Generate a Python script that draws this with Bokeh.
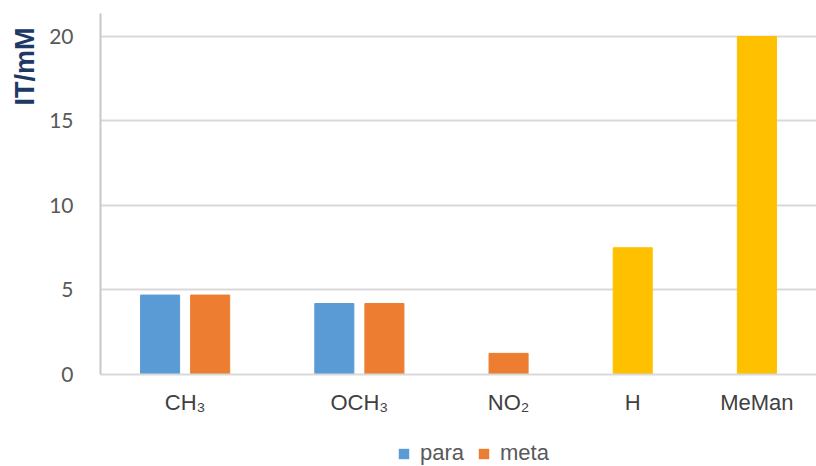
import math
from bokeh.plotting import figure
from bokeh.layouts import column
from bokeh.models import (FactorRange, Range1d, Legend, LegendItem,
                          Title, FixedTicker)
from bokeh.embed import file_html
from bokeh.resources import INLINE

# ---- data ----
categories = ["CH₃", "OCH₃", "NO₂", "H", "MeMan"]
para = [4.7, 4.2, None, None, None]
meta = [4.7, 4.2, 1.25, None, None]
other = [None, None, None, 7.5, 20.0]
y_ticks = [0, 5, 10, 15, 20]
series_names = ["para", "meta"]

PARA_C = "#5B9BD5"
META_C = "#ED7D31"
OTHER_C = "#FFC000"

factors = []
px, py, mx, my, ox, oy = [], [], [], [], [], []
for c, a, b, o in zip(categories, para, meta, other):
    if a is not None:
        factors.append((c, "para")); px.append((c, "para")); py.append(a)
    if b is not None:
        factors.append((c, "meta")); mx.append((c, "meta")); my.append(b)
    if o is not None:
        factors.append((c, "x")); ox.append((c, "x")); oy.append(o)

x_range = FactorRange(*factors, group_padding=1.48, range_padding=0.69,
                      range_padding_units="absolute")

p = figure(width=816, height=440, x_range=x_range, y_range=Range1d(0, 21.36),
           output_backend="svg", toolbar_location=None,
           min_border_left=100, min_border_right=0, min_border_top=13,
           min_border_bottom=66)
p.outline_line_color = None
p.background_fill_color = "white"
p.border_fill_color = "white"

W = 0.78
p.vbar(x=px, top=py, width=W, fill_color=PARA_C, line_color=PARA_C)
p.vbar(x=mx, top=my, width=W, fill_color=META_C, line_color=META_C)
p.vbar(x=ox, top=oy, width=W, fill_color=OTHER_C, line_color=OTHER_C)

# grid
p.xgrid.grid_line_color = None
p.ygrid.grid_line_color = "#D9D9D9"
p.ygrid.grid_line_width = 2
p.yaxis.ticker = FixedTicker(ticks=y_ticks)

# y axis
ya = p.yaxis[0]
ya.axis_line_color = "#C8C8C8"
ya.axis_line_width = 2
ya.major_tick_line_color = None
ya.minor_tick_line_color = None
ya.major_label_text_font = "Lato"
ya.major_label_text_font_size = "21px"
ya.major_label_text_color = "#595959"
ya.major_label_standoff = 21

# x axis
xa = p.xaxis[0]
xa.axis_line_color = "#D9D9D9"
xa.axis_line_width = 2
xa.major_tick_line_color = None
xa.minor_tick_line_color = None
xa.major_label_text_font_size = "8px"
xa.major_label_text_alpha = 0
xa.major_label_standoff = 9
xa.separator_line_alpha = 0
xa.group_text_font = "Liberation Sans"
xa.group_text_font_size = "22px"
xa.group_text_font_style = "normal"
xa.group_text_color = "#404040"

# y axis title (top-aligned, rotated)
p.add_layout(Title(text="IT/mM", align="right", offset=14, standoff=14,
                   text_font="Liberation Sans", text_font_style="bold",
                   text_font_size="27px", text_color="#203864"), "left")

# ---- legend strip ----
lg = figure(width=816, height=26, output_backend="svg", toolbar_location=None,
            x_range=Range1d(0, 1), y_range=Range1d(0, 1),
            min_border=0, min_border_left=0, min_border_right=0,
            min_border_top=0, min_border_bottom=0)
lg.axis.visible = False
lg.grid.visible = False
lg.outline_line_color = None
# zero-size proxy glyphs that only provide the legend swatches
lr_para = lg.vbar(x=[0], top=[0], bottom=[0], width=0,
                  fill_color=PARA_C, line_color=PARA_C, line_width=0)
lr_meta = lg.vbar(x=[0], top=[0], bottom=[0], width=0,
                  fill_color=META_C, line_color=META_C, line_width=0)
legend = Legend(items=[LegendItem(label=series_names[0], renderers=[lr_para]),
                       LegendItem(label=series_names[1], renderers=[lr_meta])],
                orientation="horizontal", location=(297, 0),
                label_text_font="Liberation Sans", label_text_font_size="22px",
                label_text_color="#595959", glyph_width=13, glyph_height=13,
                label_standoff=10, spacing=13, padding=0, margin=0,
                border_line_color=None, background_fill_alpha=0)
lg.add_layout(legend, "center")

layout = column(p, lg, spacing=0)
open("out.html", "w").write(file_html(layout, INLINE))
